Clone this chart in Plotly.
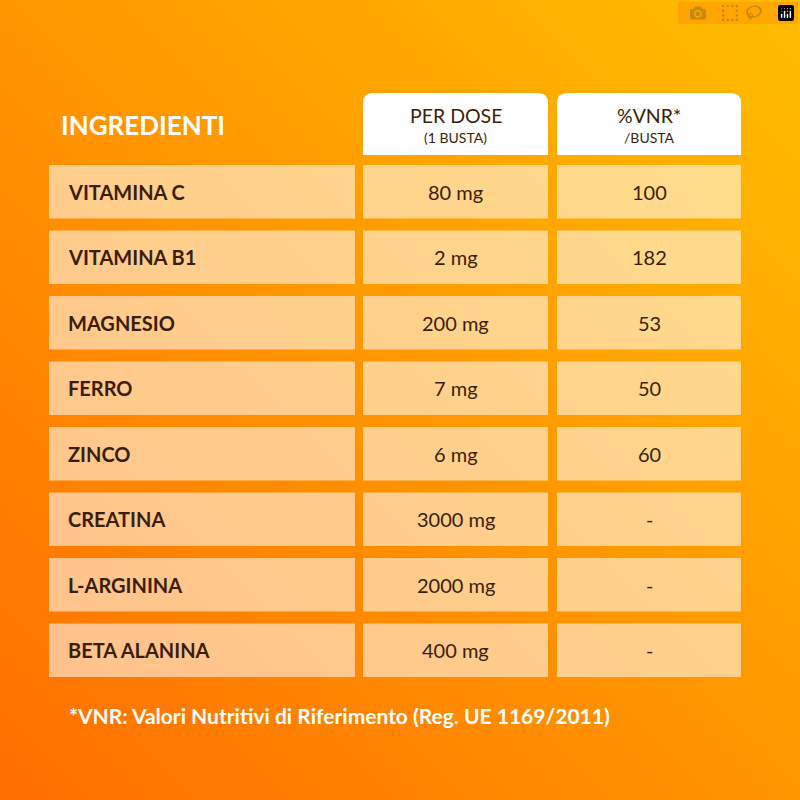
import plotly.graph_objects as go

ingredients = ["VITAMINA C", "VITAMINA B1", "MAGNESIO", "FERRO", "ZINCO", "CREATINA", "L-ARGININA", "BETA ALANINA"]
per_dose = ["80 mg", "2 mg", "200 mg", "7 mg", "6 mg", "3000 mg", "2000 mg", "400 mg"]
vnr = ["100", "182", "53", "50", "60", "-", "-", "-"]
headers = ["PER DOSE", "%VNR*"]
subheaders = ["(1 BUSTA)", "/BUSTA"]
title = "INGREDIENTI"
footnote = "*VNR: Valori Nutritivi di Riferimento (Reg. UE 1169/2011)"

W = H = 800
svg = ("data:image/svg+xml;utf8,<svg xmlns='http://www.w3.org/2000/svg' width='800' height='800'>"
       "<defs><linearGradient id='g' x1='0' y1='1' x2='1' y2='0'>"
       "<stop offset='0' stop-color='%23FF6E00'/><stop offset='0.55' stop-color='%23FF9A00'/>"
       "<stop offset='1' stop-color='%23FFBE00'/></linearGradient></defs>"
       "<rect width='800' height='800' fill='url(%23g)'/></svg>")

fig = go.Figure()
fig.add_trace(go.Scatter(x=[0, W], y=[0, H], mode="markers", marker=dict(opacity=0), hoverinfo="skip", showlegend=False))

dark = "#3B1E08"
font = "Lato"
shapes, ann = [], []

cols = [(49, 355), (363, 548), (557, 741)]
row_top0, pitch, row_h = 165, 65.5, 53.5

def rpath(x0, x1, y0, y1, r):
    return (f"M{x0},{y1} L{x0},{y0+r} Q{x0},{y0} {x0+r},{y0} L{x1-r},{y0} "
            f"Q{x1},{y0} {x1},{y0+r} L{x1},{y1} Z")

for i, (h, s) in enumerate(zip(headers, subheaders)):
    x0, x1 = cols[i + 1]
    shapes.append(dict(type="path", path=rpath(x0, x1, 93, 155, 10), fillcolor="white", line=dict(width=0), layer="below"))
    cx = (x0 + x1) / 2
    ann.append(dict(x=cx, y=115, text=h, showarrow=False, font=dict(family=font, size=19.5, color=dark)))
    ann.append(dict(x=cx, y=137, text=s, showarrow=False, font=dict(family=font, size=14, color=dark)))

ann.append(dict(x=59, y=125, text=f"<b>{title}</b>", xanchor="left", showarrow=False, font=dict(family=font, size=26, color="white")))

for r in range(len(ingredients)):
    y0 = row_top0 + r * pitch
    y1 = y0 + row_h
    cy = (y0 + y1) / 2
    for c, (x0, x1) in enumerate(cols):
        shapes.append(dict(type="rect", x0=x0, x1=x1, y0=y0, y1=y1, fillcolor="rgba(255,255,255,0.55)", line=dict(width=0), layer="below"))
    ann.append(dict(x=66, y=cy, text=f"<b>{ingredients[r]}</b>", xanchor="left", showarrow=False, font=dict(family=font, size=20, color=dark)))
    ann.append(dict(x=sum(cols[1]) / 2, y=cy, text=per_dose[r], showarrow=False, font=dict(family=font, size=20, color=dark)))
    ann.append(dict(x=sum(cols[2]) / 2, y=cy, text=vnr[r], showarrow=False, font=dict(family=font, size=20, color=dark)))

ann.append(dict(x=67, y=715, text=f"<b>{footnote}</b>", xanchor="left", showarrow=False, font=dict(family=font, size=21, color="white")))

fig.update_layout(
    width=W, height=H, margin=dict(l=0, r=0, t=0, b=0),
    paper_bgcolor="#FF9200", plot_bgcolor="rgba(0,0,0,0)",
    xaxis=dict(range=[0, W], visible=False, fixedrange=True),
    yaxis=dict(range=[H, 0], visible=False, fixedrange=True),
    shapes=shapes, annotations=ann,
    images=[dict(source=svg, xref="paper", yref="paper", x=0, y=1, sizex=1, sizey=1, sizing="stretch", layer="below")],
)
fig.write_html("out.html")
with open("out.html", encoding="utf-8") as f:
    html = f.read()
html = html.replace("<body>", "<body style=\"margin:0;background:#FF9200\">", 1)
with open("out.html", "w", encoding="utf-8") as f:
    f.write(html)
